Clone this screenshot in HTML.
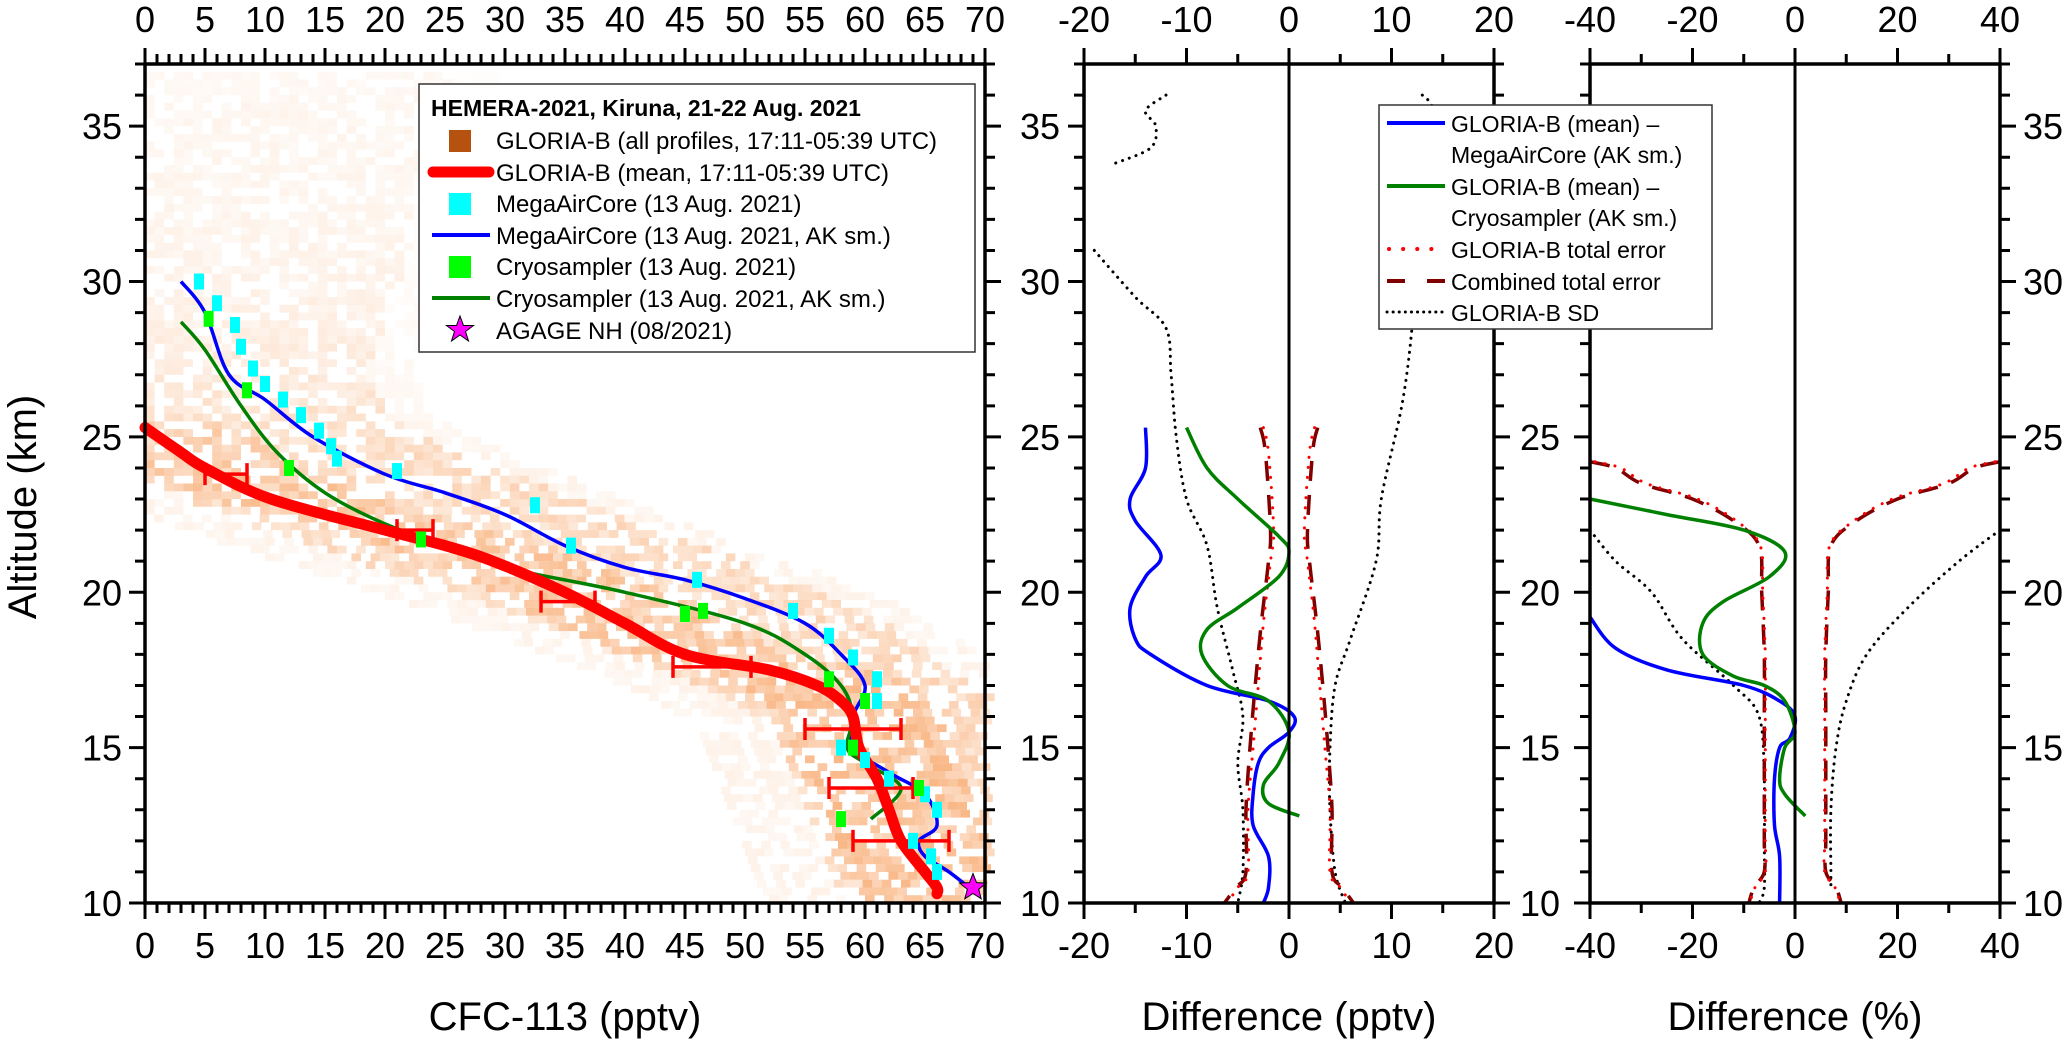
<!DOCTYPE html>
<html><head><meta charset="utf-8">
<style>
html,body{margin:0;padding:0;background:#fff;}
svg{display:block;font-family:"Liberation Sans",Arial,sans-serif;}
</style></head>
<body>
<svg id="chart" width="2067" height="1040" viewBox="0 0 2067 1040" xmlns="http://www.w3.org/2000/svg">
<g id="cloud"></g>
<g id="marks"></g>
<g id="axes"></g>
<g id="legend1">
<rect x="419" y="84" width="556" height="268" fill="#fff" stroke="#333" stroke-width="1.5"/>
<text x="431" y="116" font-size="23" font-weight="bold">HEMERA-2021, Kiruna, 21-22 Aug. 2021</text>
<g><rect x="449" y="130" width="22" height="22" fill="#b5520f"/><text x="496" y="149" font-size="24">GLORIA-B (all profiles, 17:11-05:39 UTC)</text></g>
<g><line x1="433" y1="172" x2="489" y2="172" stroke="#ff0000" stroke-width="11" stroke-linecap="round"/><text x="496" y="181" font-size="24">GLORIA-B (mean, 17:11-05:39 UTC)</text></g>
<g><rect x="449" y="193" width="22" height="22" fill="#00ffff"/><text x="496" y="212" font-size="24">MegaAirCore (13 Aug. 2021)</text></g>
<g><line x1="432" y1="235" x2="490" y2="235" stroke="#0000ff" stroke-width="4"/><text x="496" y="244" font-size="24">MegaAirCore (13 Aug. 2021, AK sm.)</text></g>
<g><rect x="449" y="256" width="22" height="22" fill="#00ff00"/><text x="496" y="275" font-size="24">Cryosampler (13 Aug. 2021)</text></g>
<g><line x1="432" y1="298" x2="490" y2="298" stroke="#008000" stroke-width="4"/><text x="496" y="307" font-size="24">Cryosampler (13 Aug. 2021, AK sm.)</text></g>
<g><polygon points="460,316 463.5,325.5 473.5,325.5 465.5,331.5 468.5,341 460,335 451.5,341 454.5,331.5 446.5,325.5 456.5,325.5" fill="#ff00ff" stroke="#000" stroke-width="1"/><text x="496" y="339" font-size="24">AGAGE NH (08/2021)</text></g>
</g>
<g id="legend2">
<rect x="1379" y="105" width="333" height="224" fill="#fff" stroke="#333" stroke-width="1.5"/>
<g><line x1="1387" y1="123" x2="1445" y2="123" stroke="#0000ff" stroke-width="4"/><text x="1451" y="132" font-size="23">GLORIA-B (mean) –</text><text x="1451" y="163" font-size="23">MegaAirCore (AK sm.)</text></g>
<g><line x1="1387" y1="186" x2="1445" y2="186" stroke="#008000" stroke-width="4"/><text x="1451" y="195" font-size="23">GLORIA-B (mean) –</text><text x="1451" y="226" font-size="23">Cryosampler (AK sm.)</text></g>
<g><line x1="1389" y1="249" x2="1445" y2="249" stroke="#ff0000" stroke-width="4" stroke-dasharray="0.1 14" stroke-linecap="round"/><text x="1451" y="258" font-size="23">GLORIA-B total error</text></g>
<g><line x1="1387" y1="281" x2="1445" y2="281" stroke="#800000" stroke-width="4" stroke-dasharray="18 22"/><text x="1451" y="290" font-size="23">Combined total error</text></g>
<g><line x1="1387" y1="312" x2="1445" y2="312" stroke="#000" stroke-width="3" stroke-dasharray="0.1 6" stroke-linecap="round"/><text x="1451" y="321" font-size="23">GLORIA-B SD</text></g>
</g>
<text x="22" y="507" font-size="40" text-anchor="middle" transform="rotate(-90 22 507)" dy="14">Altitude (km)</text>
<text x="565" y="1030" font-size="40" text-anchor="middle">CFC-113 (pptv)</text>
<text x="1289" y="1030" font-size="40" text-anchor="middle">Difference (pptv)</text>
<text x="1795" y="1030" font-size="40" text-anchor="middle">Difference (%)</text>
</svg>
<script>
// ---------- data ----------
const meanAlt = [25.3,24.5,24,23,22,21.5,21,20,19,18,17.5,17,16.5,16,15,14,13,12,11,10.5,10.3];
const meanVal = [0,3,5,10.5,20,25,29,35,40,45,52,56,58,59,59.5,61,62,63,65,66,66];
const errAlt = [23.8,22,19.7,17.6,15.6,13.7,12];
const errLo = [5,21,33,44,55,57,59];
const errHi = [8.5,24,37.5,50.5,63,64,67];
const macAlt = [30,29,27,26.2,25,23.8,23.2,22.5,21.5,20.8,20.4,19.8,19,18,17,16,15,14.2,13.5,12.5,12,11.5,11,10.4];
const macVal = [3,5,7,10,14,20,25,30,35,40,45,50,55,58,60,59,59,62,65,66,64.5,65,67,69];
const macPtAlt = [30,29.3,28.6,27.9,27.2,26.7,26.2,25.7,25.2,24.7,24.3,23.9,22.8,21.5,20.4,19.4,18.6,17.9,17.2,16.5,15,14.6,14,13.5,13,12,11.5,11];
const macPtVal = [4.5,6,7.5,8,9,10,11.5,13,14.5,15.5,16,21,32.5,35.5,46,54,57,59,61,61,58,60,62,65,66,64,65.5,66];
const cryAlt = [28.7,27.8,26,24.5,23.2,22.2,21.5,20.8,20,19,18,17,16,15,14.5,13.7,12.7];
const cryVal = [3,5,8,11,15,20,25,30,40,50,55,58,59,58.5,60,63,60.5];
const cryPtAlt = [28.8,26.5,24,21.7,19.3,19.4,17.2,16.5,15,13.7,12.7];
const cryPtVal = [5.3,8.5,12,23,45,46.5,57,60,59,64.5,58];
const agageAlt = [10.5];
const agageVal = [69];
// heatmap cloud envelope
const cloudAlt = [36.5,35,33,31,29,27,25.5,24.5,23.5,22.5,21.5,20.5,19.5,18.5,17.5,16.5,15.5,14.5,13.5,12.5,11.5,10.5,10];
const cloudLo  = [0,0,0,0,0,0,0,0,0,5,12,20,28,35,42,48,52,53,54,55,56,57,58];
const cloudHi  = [25,25,22,22,20,18,20,25,32,38,45,52,58,63,66,70,70,70,70,70,70,70,70];
const cloudDens= [0.08,0.1,0.1,0.12,0.15,0.22,0.3,0.35,0.38,0.38,0.38,0.38,0.38,0.38,0.4,0.42,0.42,0.42,0.42,0.42,0.42,0.42,0.38];
// panel 2 (pptv)
const d1Alt = [25.3,24,23,22.3,21.2,20.5,19.5,18.5,18,17,16.5,16,15.5,15,14.5,13.5,12.5,11.5,10.5,10];
const d1Val = [-14,-14,-15.5,-15,-12.5,-14,-15.5,-15,-13.5,-8,-2,0.5,0,-2,-3,-3.5,-3.5,-2,-2,-2.5];
const d2Alt = [25.3,24,23,21.8,21.3,20.5,19.5,18.8,18,17,16.5,15.5,14.5,13.8,13.2,12.8];
const d2Val = [-10,-8,-5,-1,0,-1,-5,-8,-8.5,-6,-2,0,-1,-2.5,-2,1];
const eAlt = [25.3,24.5,22,21,19,17,15,13,11,10.5,10];
const eGlo = [2.5,2,1.5,1.8,2.5,3,3.5,4,4,5,6];
const eComb = [2.8,2.3,1.8,2,2.7,3.3,3.8,4.2,4.2,5.2,6.3];
const sdLAlt = [36,35.5,35,34.3,33.8,null,31,29.5,28.5,27,25,23,21.5,19.5,17.5,16,14.5,13,11,10];
const sdLVal = [-12,-14,-13,-13.5,-17,null,-19,-15,-12,-11.5,-11,-10,-8,-7,-5.5,-4.5,-5,-4.5,-4.5,-5];
const sdRAlt = [36,35.5,34,31,28.5,26,23,21,18.5,17,15,13,11,10];
const sdRVal = [13,14,13,12.5,12,11,9,8.5,6,4.5,4,4,4.5,5.5];
// panel 3 (%)
const p1Alt = [19.2,18.2,17.5,17,16.5,16,15.3,15,14,12.5,11.5,10];
const p1Val = [-40,-35,-25,-10,-3,0,-1,-3,-4,-4,-3,-3];
const p2Alt = [23,22.5,22,21.3,20.5,19.7,19,18,17.3,17,16.5,15.5,15,14,13.5,12.8];
const p2Val = [-40,-25,-10,-2,-5,-14,-18,-18,-12,-6,-2,0,-2,-3,-2,2];
const peAlt = [24.2,24,23.5,23,22.3,21.5,20,18,16,14,12,11,10.5,10];
const peComb = [40,35,30,20,12,7,6.5,6,6,6,6,6,8,9];
const peGlo = [39,34,29,19,11.5,6.8,6.3,5.8,5.8,5.8,5.8,5.8,7.8,8.8];
const psLAlt = [22,21,20,18.5,17,16,14,12,10.5,10];
const psLVal = [-40,-35,-28,-22,-12,-7,-6,-6,-6,-7];
const psRAlt = [22,21,19.5,18,16.5,15,13,11,10.5];
const psRVal = [40,32,22,14,10,8,7,7,7];
const ticksP1 = [0,5,10,15,20,25,30,35,40,45,50,55,60,65,70];
const ticksP2 = [-20,-10,0,10,20];
const ticksP3 = [-40,-20,0,20,40];
const ticksY = [10,15,20,25,30,35];

// ---------- scales ----------
const Y0=903, YT=64, AMIN=10, AMAX=37;
const y = a => Y0 - (a-AMIN)*(Y0-YT)/(AMAX-AMIN);
const x1 = v => 145 + v*(985-145)/70;
const x2 = v => 1084 + (v+20)*(1494-1084)/40;
const x3 = v => 1590 + (v+40)*(2000-1590)/80;
const NS='http://www.w3.org/2000/svg';
function mk(tag, attrs, parent){const e=document.createElementNS(NS,tag);for(const k in attrs)e.setAttribute(k,attrs[k]);parent.appendChild(e);return e;}
const marks=document.getElementById('marks'), axes=document.getElementById('axes'), cloud=document.getElementById('cloud');

// smooth (Catmull-Rom) path through points, segments separated by null
function pathOf(alts, vals, xs){
  let d='', seg=[];
  const flush=()=>{
    if(seg.length===0) return;
    d+='M'+seg[0][0].toFixed(1)+','+seg[0][1].toFixed(1);
    for(let i=0;i<seg.length-1;i++){
      const p0=seg[Math.max(0,i-1)], p1=seg[i], p2=seg[i+1], p3=seg[Math.min(seg.length-1,i+2)];
      const c1x=p1[0]+(p2[0]-p0[0])/6, c1y=p1[1]+(p2[1]-p0[1])/6;
      const c2x=p2[0]-(p3[0]-p1[0])/6, c2y=p2[1]-(p3[1]-p1[1])/6;
      d+=`C${c1x.toFixed(1)},${c1y.toFixed(1)} ${c2x.toFixed(1)},${c2y.toFixed(1)} ${p2[0].toFixed(1)},${p2[1].toFixed(1)}`;
    }
    seg=[];
  };
  for(let i=0;i<alts.length;i++){
    if(alts[i]===null){flush();continue;}
    seg.push([xs(vals[i]), y(alts[i])]);
  }
  flush();
  return d;
}
function line(alts, vals, xs, style, name){const p=mk('path',Object.assign({d:pathOf(alts,vals,xs),fill:'none'},style),marks);


return p;}

// ---------- heatmap ----------
function interp(arrA, arrV, a){for(let i=0;i<arrA.length-1;i++){if(a<=arrA[i]&&a>=arrA[i+1]){const t=(a-arrA[i])/(arrA[i+1]-arrA[i]);return arrV[i]+t*(arrV[i+1]-arrV[i]);}}return null;}
const cw=0.8, ch=0.25;
for(let a=10; a<36.6; a+=ch){
  const lo=interp(cloudAlt,cloudLo,a), hi=interp(cloudAlt,cloudHi,a), dn=interp(cloudAlt,cloudDens,a);
  if(lo===null) continue;
  const mid=interp(meanAlt,meanVal,Math.min(Math.max(a,10.3),25.3));
  for(let v=Math.max(0,lo-6); v<Math.min(70,hi+4); v+=cw){
    const h=Math.abs(Math.sin(a*127.1+v*311.7)*43758.5453)%1;
    let o=dn*(0.25+0.9*h);
    if(v<lo||v>hi) o*=0.3;
    if(a<25.5 && mid!==null && Math.abs(v-mid)<7) o*=1.5;
    if(h<0.35) continue;
    const r=mk('rect',{x:x1(v).toFixed(1),y:(y(a+ch)).toFixed(1),width:(x1(cw)-x1(0)).toFixed(1),height:(y(a)-y(a+ch)).toFixed(1),fill:'#f79a55','fill-opacity':Math.min(o,0.7).toFixed(2)},cloud);
    
    
  }
}

// ---------- panel 1 ----------
line(macAlt,macVal,x1,{stroke:'#0000ff','stroke-width':3.5},'megaaircore-ak-line');
line(cryAlt,cryVal,x1,{stroke:'#008000','stroke-width':3.5},'cryosampler-ak-line');
line(meanAlt,meanVal,x1,{stroke:'#ff0000','stroke-width':11,'stroke-linejoin':'round','stroke-linecap':'round'},'gloria-mean-line');
for(let i=0;i<errAlt.length;i++){
  const g=mk('path',{d:`M${x1(errLo[i])},${y(errAlt[i])}H${x1(errHi[i])}M${x1(errLo[i])},${y(errAlt[i])-11}v22M${x1(errHi[i])},${y(errAlt[i])-11}v22`,stroke:'#ff0000','stroke-width':3.5,fill:'none'},marks);
  
  
}
for(let i=0;i<macPtAlt.length;i++){
  const r=mk('rect',{x:x1(macPtVal[i])-5,y:y(macPtAlt[i])-8,width:10,height:16,fill:'#00ffff'},marks);
  
  
}
for(let i=0;i<cryPtAlt.length;i++){
  const r=mk('rect',{x:x1(cryPtVal[i])-5,y:y(cryPtAlt[i])-8,width:10,height:16,fill:'#00ff00'},marks);
  
  
}
for(let i=0;i<agageAlt.length;i++){
  const cx=x1(agageVal[i]), cy=y(agageAlt[i]); let pts=[];
  for(let k=0;k<10;k++){const r=k%2?6:14, t=-Math.PI/2+k*Math.PI/5; pts.push((cx+r*Math.cos(t)).toFixed(1)+','+(cy+r*Math.sin(t)).toFixed(1));}
  const s=mk('polygon',{points:pts.join(' '),fill:'#ff00ff',stroke:'#000','stroke-width':1},marks);
  
  
}

// ---------- panel 2 ----------
const neg = arr => arr.map(v=>-v);
line(sdLAlt,sdLVal,x2,{stroke:'#000','stroke-width':3,'stroke-dasharray':'0.1 7','stroke-linecap':'round'},'gloria-sd-left');
line(sdRAlt,sdRVal,x2,{stroke:'#000','stroke-width':3,'stroke-dasharray':'0.1 7','stroke-linecap':'round'},'gloria-sd-right');
line(eAlt,eComb,x2,{stroke:'#800000','stroke-width':3.5,'stroke-dasharray':'20 14'},'combined-error-right');
line(eAlt,neg(eComb),x2,{stroke:'#800000','stroke-width':3.5,'stroke-dasharray':'20 14'},'combined-error-left');
line(eAlt,eGlo,x2,{stroke:'#ff0000','stroke-width':3,'stroke-dasharray':'0.1 10','stroke-linecap':'round'},'gloria-error-right');
line(eAlt,neg(eGlo),x2,{stroke:'#ff0000','stroke-width':3,'stroke-dasharray':'0.1 10','stroke-linecap':'round'},'gloria-error-left');
line(d1Alt,d1Val,x2,{stroke:'#0000ff','stroke-width':3.5},'diff-megaaircore-pptv');
line(d2Alt,d2Val,x2,{stroke:'#008000','stroke-width':3.5},'diff-cryosampler-pptv');

// ---------- panel 3 ----------
line(psLAlt,psLVal,x3,{stroke:'#000','stroke-width':3,'stroke-dasharray':'0.1 7','stroke-linecap':'round'},'gloria-sd-pct-left');
line(psRAlt,psRVal,x3,{stroke:'#000','stroke-width':3,'stroke-dasharray':'0.1 7','stroke-linecap':'round'},'gloria-sd-pct-right');
line(peAlt,peComb,x3,{stroke:'#800000','stroke-width':3.5,'stroke-dasharray':'20 14'},'combined-error-pct-right');
line(peAlt,neg(peComb),x3,{stroke:'#800000','stroke-width':3.5,'stroke-dasharray':'20 14'},'combined-error-pct-left');
line(peAlt,peGlo,x3,{stroke:'#ff0000','stroke-width':3,'stroke-dasharray':'0.1 10','stroke-linecap':'round'},'gloria-error-pct-right');
line(peAlt,neg(peGlo),x3,{stroke:'#ff0000','stroke-width':3,'stroke-dasharray':'0.1 10','stroke-linecap':'round'},'gloria-error-pct-left');
line(p1Alt,p1Val,x3,{stroke:'#0000ff','stroke-width':3.5},'diff-megaaircore-pct');
line(p2Alt,p2Val,x3,{stroke:'#008000','stroke-width':3.5},'diff-cryosampler-pct');

// ---------- axes ----------
function txt(x,yy,s,anchor,name){const t=mk('text',{x:x,y:yy,'font-size':36,'text-anchor':anchor},axes);t.textContent=s;

}
function frame(L,R,name){const r=mk('rect',{x:L,y:YT,width:R-L,height:Y0-YT,fill:'none',stroke:'#000','stroke-width':3.5},axes);

}
function xTicks(xs,majors,minorStep,lo,hi,prefix){
  let d='';
  for(let v=lo; v<=hi+1e-9; v+=minorStep){const X=xs(v); d+=`M${X},${Y0}v10M${X},${YT}v-10`;}
  for(const v of majors){const X=xs(v); d+=`M${X},${Y0}v16M${X},${YT}v-16`; txt(X,958,String(v),'middle',prefix+'-bottom-tick-label'); txt(X,32,String(v),'middle',prefix+'-top-tick-label');}
  const p=mk('path',{d:d,stroke:'#000','stroke-width':3,fill:'none'},axes);
  
  
}
function yTicks(X,dir,labelX,anchor,name){
  let d='';
  for(let a=10;a<=37;a++){d+=`M${X},${y(a)}h${dir*(a%5===0?16:10)}`;}
  for(const a of ticksY){txt(labelX,y(a)+13,String(a),anchor,name+'-label');}
  const p=mk('path',{d:d,stroke:'#000','stroke-width':3,fill:'none'},axes);
  
  
}
frame(145,985,'panel1-frame'); frame(1084,1494,'panel2-frame'); frame(1590,2000,'panel3-frame');
xTicks(x1,ticksP1,1,0,70,'cfc113');
xTicks(x2,ticksP2,5,-20,20,'diff-pptv');
xTicks(x3,ticksP3,10,-40,40,'diff-pct');
yTicks(145,-1,122,'end','panel1-y-ticks');
yTicks(985,1,1040,'middle','panel1-right-y-ticks');
{let d='';for(let a=10;a<=37;a++){d+=`M1084,${y(a)}h${-(a%5===0?16:10)}M1494,${y(a)}h${(a%5===0?16:10)}M1590,${y(a)}h${-(a%5===0?16:10)}`;}
 const p=mk('path',{d:d,stroke:'#000','stroke-width':3,fill:'none'},axes);
 
 }
for(const a of ticksY){txt(1540,y(a)+13,String(a),'middle','panel3-left-y-label');}
yTicks(2000,1,2043,'middle','panel3-right-y-ticks');
for(const X of [x2(0),x3(0)]){const l=mk('line',{x1:X,y1:YT,x2:X,y2:Y0,stroke:'#000','stroke-width':3},axes);
 
 }
</script>
</body></html>
